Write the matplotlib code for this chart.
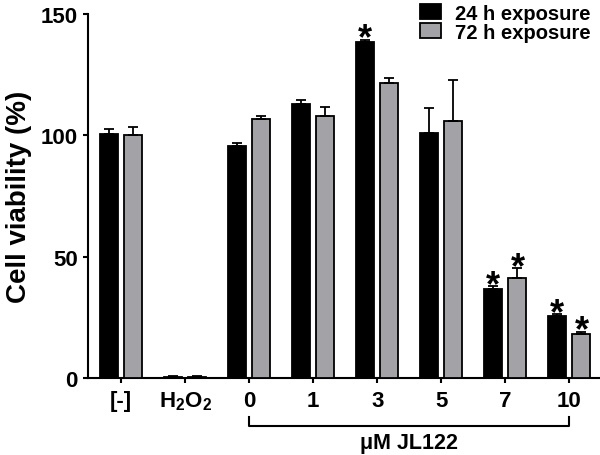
import numpy as np
import matplotlib
matplotlib.use('Agg')
import matplotlib.pyplot as plt
import matplotlib.transforms as mtransforms

plt.rcParams['font.family'] = ['Liberation Sans', 'DejaVu Sans']
plt.rcParams['font.weight'] = 'bold'
plt.rcParams['mathtext.fontset'] = 'custom'
plt.rcParams['mathtext.rm'] = 'Liberation Sans:bold'
plt.rcParams['mathtext.it'] = 'Liberation Sans:bold'
plt.rcParams['mathtext.bf'] = 'Liberation Sans:bold'

# data
groups = ['[-]', 'H$_2$O$_2$', '0', '1', '3', '5', '7', '10']
mean_24h = [100.4, 0.4, 95.8, 112.9, 138.3, 101.0, 36.7, 25.4]
err_24h = [2.4, 0.3, 1.2, 1.6, 1.1, 10.4, 1.2, 1.0]
mean_72h = [100.0, 0.4, 106.8, 107.8, 121.5, 106.0, 41.2, 18.1]
err_72h = [3.6, 0.3, 1.0, 3.7, 2.2, 17.0, 4.0, 1.0]
sig_24h = [False, False, False, False, True, False, True, True]
sig_72h = [False, False, False, False, False, False, True, True]

x = np.arange(len(groups))
w = 0.28
off = 0.19
grey = '#a3a3a7'

fig = plt.figure(figsize=(6, 4.56), dpi=100)
ax = fig.add_axes([88 / 600, 1 - 379 / 456, 512 / 600, 364 / 456])

ekw = dict(ecolor='black', elinewidth=1.3, capsize=3.5, capthick=1.3)
ax.bar(x - off, mean_24h, w, color='black', edgecolor='black', linewidth=1.3,
       yerr=[np.zeros(len(x)), err_24h], error_kw=ekw, label='24 h exposure', zorder=3)
ax.bar(x + off, mean_72h, w, color=grey, edgecolor='black', linewidth=1.3,
       yerr=[np.zeros(len(x)), err_72h], error_kw=ekw, label='72 h exposure', zorder=3)

# significance stars
for i in range(len(x)):
    if sig_24h[i]:
        ax.text(x[i] - off, mean_24h[i] + err_24h[i] - 3.6, '*', ha='center',
                va='baseline', fontsize=26, fontweight='bold')
    if sig_72h[i]:
        ax.text(x[i] + off, mean_72h[i] + err_72h[i] - 3.6, '*', ha='center',
                va='baseline', fontsize=26, fontweight='bold')

ax.set_xlim(-0.52, 7.48)
ax.set_ylim(0, 150)
ax.set_yticks([0, 50, 100, 150])
ax.set_xticks(x)
ax.set_xticklabels(groups)
ax.spines['top'].set_visible(False)
ax.spines['right'].set_visible(False)
ax.spines['left'].set_linewidth(1.5)
ax.spines['bottom'].set_linewidth(1.5)
ax.tick_params(axis='both', labelsize=16, width=1.5, length=3.5)
ax.tick_params(axis='x', pad=5)
ax.tick_params(axis='y', pad=4)
ax.set_ylabel('Cell viability (%)', fontsize=20, fontweight='bold', labelpad=6)

# bracket under the JL122 doses
trans = mtransforms.blended_transform_factory(ax.transData, ax.transAxes)
ax.plot([2, 2, 7, 7], [-0.107, -0.132, -0.132, -0.107], color='black', lw=1.5,
        transform=trans, clip_on=False)
ax.text(4.5, -0.176, 'μM JL122', transform=trans, ha='center', va='center',
        fontsize=15.5, fontweight='bold')

ax.legend(loc='upper right', bbox_to_anchor=(0.985, 0.99), bbox_transform=fig.transFigure,
          frameon=False, fontsize=14.5, handlelength=1.05, handleheight=0.7,
          handletextpad=0.7, labelspacing=0.0, borderpad=0, borderaxespad=0)

plt.savefig('out.png', dpi=100)
